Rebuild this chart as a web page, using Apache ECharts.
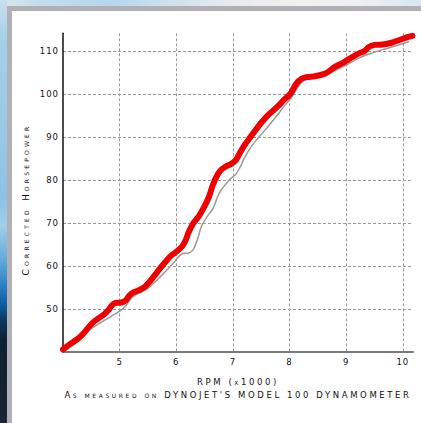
<!DOCTYPE html>
<html>
<head>
<meta charset="utf-8">
<script src="https://cdn.jsdelivr.net/npm/echarts@6/dist/echarts.min.js"></script>
<style>
  html, body { margin: 0; padding: 0; width: 421px; height: 423px; overflow: hidden; background: #dfe9f0; }
  #bgTop { position: absolute; left: 0; top: 0; width: 421px; height: 6px;
    background: linear-gradient(to right, #dae8f0 0px, #c4ddec 40px, #b5d7ee 110px, #cfe1ec 170px, #e6ebee 230px, #f3f1ef 300px, #eef0f2 360px, #d8e7f2 421px); }
  #bgLeft { position: absolute; left: 0; top: 0; width: 7px; height: 423px;
    background: linear-gradient(to bottom, #c9dfec 0px, #a6cfe8 40px, #98c8e6 140px, #8cc2e4 200px, #a2cfea 225px, #62aadb 260px, #2079c0 290px, #0a5c9e 305px, #0b3a60 320px, #0d2030 340px, #13202e 380px, #1a2636 423px); }
  #panel { position: absolute; left: 7px; top: 6px; width: 420px; height: 420px; box-sizing: border-box;
    border-left: 5px solid #b1b0b5; border-top: 5px solid #b1b0b5; background: #ffffff; }
  #chart { position: absolute; left: 0; top: 0; width: 421px; height: 423px; }
  svg text { letter-spacing: 1px; }
  svg text[style*="small-caps"] { letter-spacing: 2.6px; }
  svg text[style*="small-caps 9px"] { letter-spacing: 3.2px; }
</style>
</head>
<body>
<div id="bgTop"></div>
<div id="bgLeft"></div>
<div id="panel"></div>
<div id="chart"></div>
<script>
// Data
const redRpm = [4.00,4.10,4.20,4.30,4.38,4.46,4.54,4.62,4.72,4.80,4.86,4.93,5.03,5.10,5.17,5.25,5.35,5.43,5.50,5.60,5.70,5.80,5.90,6.00,6.10,6.16,6.22,6.30,6.40,6.50,6.58,6.64,6.70,6.78,6.88,6.97,7.05,7.12,7.20,7.30,7.40,7.50,7.60,7.70,7.80,7.90,8.00,8.05,8.12,8.20,8.30,8.45,8.60,8.70,8.80,8.95,9.10,9.25,9.32,9.40,9.50,9.65,9.80,9.95,10.08,10.17];
const redHp  = [40.6,41.6,42.5,43.5,44.6,45.9,47.0,47.8,48.7,49.7,50.8,51.4,51.5,51.9,53.1,53.9,54.4,55.0,55.9,57.5,59.2,60.8,62.3,63.3,64.5,65.8,67.9,69.9,71.6,73.9,76.2,78.6,80.5,82.2,83.2,83.7,84.6,86.2,88.0,89.8,91.6,93.3,94.8,96.0,97.2,98.6,99.8,100.8,102.4,103.4,103.9,104.1,104.6,105.3,106.3,107.3,108.5,109.6,109.9,110.9,111.4,111.5,111.9,112.6,113.2,113.5];
const grayRpm = [4.00,4.20,4.40,4.55,4.70,4.85,5.00,5.10,5.18,5.26,5.36,5.50,5.65,5.80,5.97,6.05,6.12,6.22,6.30,6.37,6.45,6.55,6.65,6.73,6.80,6.88,6.95,7.05,7.12,7.20,7.30,7.41,7.50,7.60,7.70,7.82,7.92,8.00,8.07,8.14,8.22,8.30,8.52,8.76,9.00,9.23,9.41,9.64,9.88,10.11];
const grayHp  = [40.6,42.4,44.5,45.9,47.1,48.3,49.5,50.6,52.1,53.1,53.8,54.8,56.6,58.6,61.0,62.3,62.9,63.0,63.8,66.0,69.4,71.6,73.4,76.1,77.8,79.1,80.2,81.3,82.8,85.0,87.3,89.2,90.6,92.1,93.7,95.7,97.4,98.6,99.9,101.5,102.8,103.5,104.3,105.2,106.7,108.4,109.3,110.3,111.2,112.2];

const xMin = 4, xMax = 10.18, xStep = 1;
const yMin = 40, yMax = 114.1, yStep = 10;
const yTitle = 'Corrected Horsepower';
const xTitle1 = 'RPM (x1000)';
const xTitle2 = "As measured on DYNOJET'S MODEL 100 DYNAMOMETER";

const zip = (a, b) => a.map((v, i) => [v, b[i]]);

const chart = echarts.init(document.getElementById('chart'), null, { renderer: 'svg' });
const gridLine = { show: true, showMinLine: false, showMaxLine: false,
  lineStyle: { color: '#9a9a9a', width: 1, type: [3, 2] } };

chart.setOption({
  animation: false,
  backgroundColor: 'transparent',
  grid: { left: 63, right: 8, top: 33.3, bottom: 71, containLabel: false },
  xAxis: {
    type: 'value', min: xMin, max: xMax, interval: xStep,
    axisLine: { show: true, onZero: false, lineStyle: { color: '#7a7a7a', width: 2 } },
    axisTick: { show: false },
    splitLine: gridLine,
    axisLabel: {
      margin: 5.5, color: '#111', fontSize: 8.5, fontFamily: 'DejaVu Sans',
      formatter: v => (v <= xMin + 0.01 || Math.abs(v - Math.round(v)) > 0.01) ? '' : String(Math.round(v))
    }
  },
  yAxis: {
    type: 'value', min: yMin, max: yMax, interval: yStep,
    axisLine: { show: true, onZero: false, lineStyle: { color: '#111', width: 1.5 } },
    axisTick: { show: false },
    splitLine: gridLine,
    axisLabel: {
      margin: 4, color: '#111', fontSize: 8.5, fontFamily: 'DejaVu Sans',
      formatter: v => (v <= yMin + 0.01 || Math.abs(v % 10) > 0.01) ? '' : String(Math.round(v))
    }
  },
  series: [
    { type: 'line', data: zip(grayRpm, grayHp), showSymbol: false, smooth: 0.3,
      lineStyle: { color: '#9a9a9a', width: 1.5 }, z: 2 },
    { type: 'line', data: zip(redRpm, redHp), showSymbol: false, smooth: 0.3,
      lineStyle: { color: '#ee0000', width: 6, cap: 'round', join: 'round' }, z: 3 }
  ],
  graphic: [
    { type: 'text', x: 25.5, y: 199.5, rotation: Math.PI / 2,
      style: { text: yTitle, font: 'small-caps 9px DejaVu Sans', fill: '#111', align: 'center', verticalAlign: 'middle' } },
    { type: 'text', x: 238, y: 382,
      style: { text: xTitle1, font: 'small-caps 8.5px DejaVu Sans', fill: '#111', align: 'center', verticalAlign: 'middle' } },
    { type: 'text', x: 238, y: 395,
      style: { text: xTitle2, font: 'small-caps 8.5px DejaVu Sans', fill: '#111', align: 'center', verticalAlign: 'middle' } }
  ]
});
</script>
</body>
</html>
